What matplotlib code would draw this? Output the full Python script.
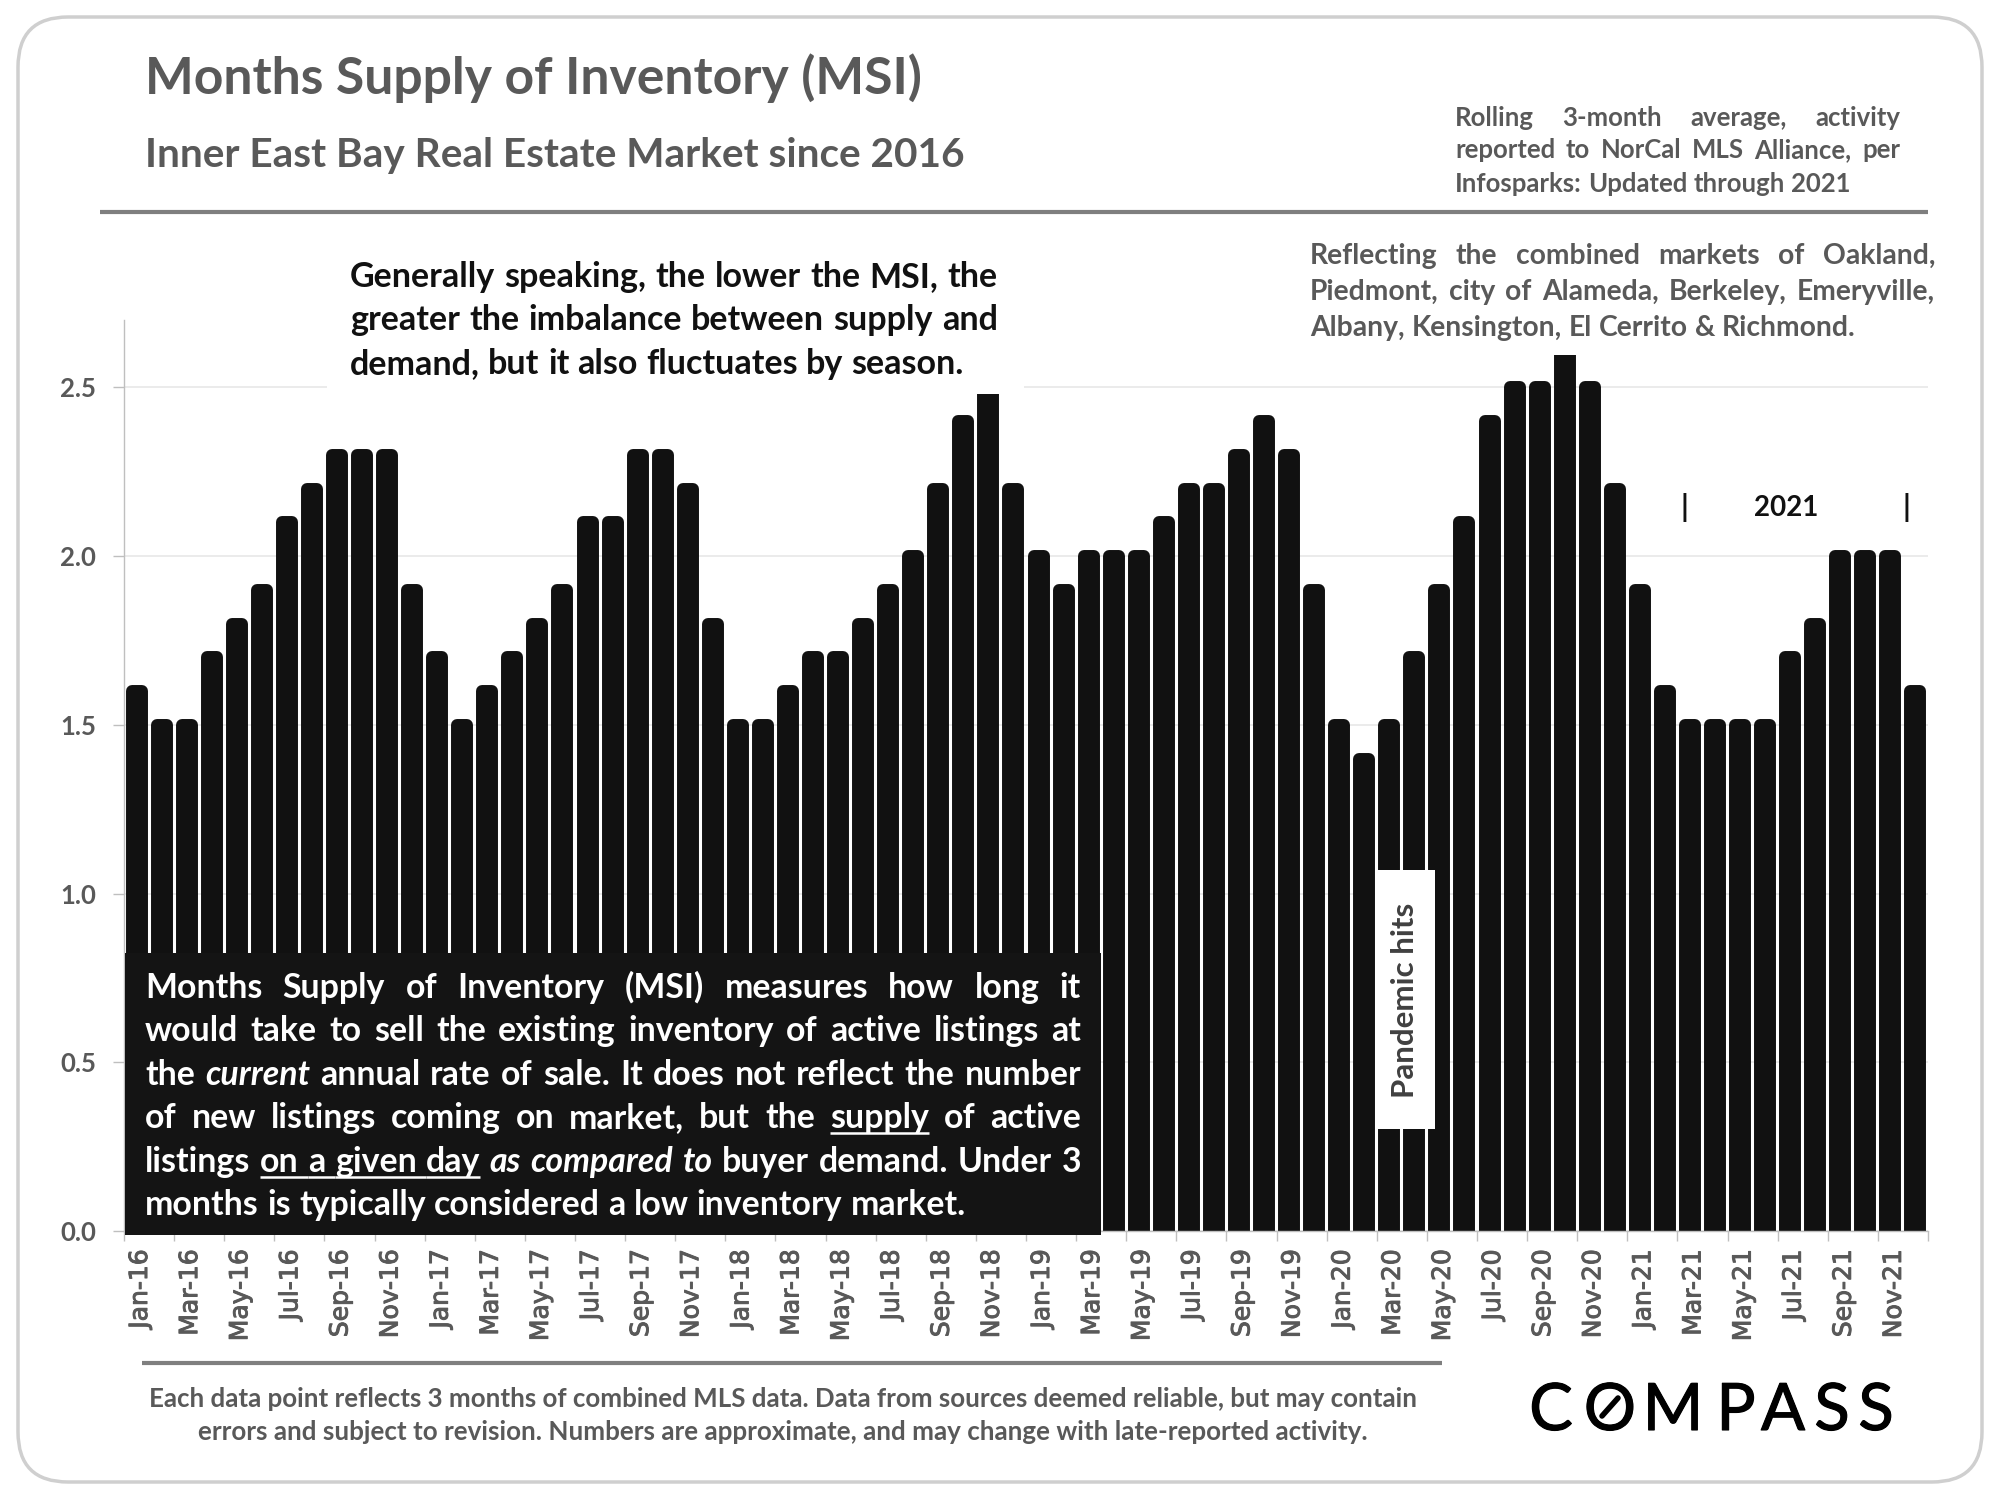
#!/usr/bin/env python3

import matplotlib
matplotlib.use('Agg')
import matplotlib.pyplot as plt
import matplotlib.patheffects as pe
from matplotlib.patches import FancyBboxPatch, Rectangle
from matplotlib.transforms import ScaledTranslation

plt.rcParams['font.family'] = ['Lato', 'DejaVu Sans']

years = ['16', '17', '18', '19', '20', '21']
month_names = ['Jan', 'Feb', 'Mar', 'Apr', 'May', 'Jun',
               'Jul', 'Aug', 'Sep', 'Oct', 'Nov', 'Dec']
months = [m + '-' + y for y in years for m in month_names]

msi = [1.6, 1.5, 1.5, 1.7, 1.8, 1.9, 2.1, 2.2, 2.3, 2.3, 2.3, 1.9,
       1.7, 1.5, 1.6, 1.7, 1.8, 1.9, 2.1, 2.1, 2.3, 2.3, 2.2, 1.8,
       1.5, 1.5, 1.6, 1.7, 1.7, 1.8, 1.9, 2.0, 2.2, 2.4, 2.5, 2.2,
       2.0, 1.9, 2.0, 2.0, 2.0, 2.1, 2.2, 2.2, 2.3, 2.4, 2.3, 1.9,
       1.5, 1.4, 1.5, 1.7, 1.9, 2.1, 2.4, 2.5, 2.5, 2.6, 2.5, 2.2,
       1.9, 1.6, 1.5, 1.5, 1.5, 1.5, 1.7, 1.8, 2.0, 2.0, 2.0, 1.6]

y_ticks = [0.0, 0.5, 1.0, 1.5, 2.0, 2.5]

title = 'Months Supply of Inventory (MSI)'
subtitle = 'Inner East Bay Real Estate Market since 2016'
source_lines = ['Rolling 3-month average, activity',
                'reported to NorCal MLS Alliance, per',
                'Infosparks: Updated through 2021']
region_lines = ['Reflecting the combined markets of Oakland,',
                'Piedmont, city of Alameda, Berkeley, Emeryville,',
                'Albany, Kensington, El Cerrito & Richmond.']
note_lines = ['Generally speaking, the lower the MSI, the',
              'greater the imbalance between supply and',
              'demand, but it also fluctuates by season.']
# words tagged: '' plain, 'i' italic, 'u' underlined
box_lines = [
    [(w, '') for w in 'Months Supply of Inventory (MSI) measures how long it'.split()],
    [(w, '') for w in 'would take to sell the existing inventory of active listings at'.split()],
    [('the', ''), ('current', 'i')] + [(w, '') for w in 'annual rate of sale. It does not reflect the number'.split()],
    [(w, '') for w in 'of new listings coming on market, but the'.split()] + [('supply', 'u'), ('of', ''), ('active', '')],
    [('listings', ''), ('on', 'u'), ('a', 'u'), ('given', 'u'), ('day', 'u'), ('as', 'i'), ('compared', 'i'), ('to', 'i')]
    + [(w, '') for w in 'buyer demand. Under 3'.split()],
    [(w, '') for w in 'months is typically considered a low inventory market.'.split()],
]
footer_lines = ['Each data point reflects 3 months of combined MLS data. Data from sources deemed reliable, but may contain',
                'errors and subject to revision. Numbers are approximate, and may change with late-reported activity.']

GREY = '#595959'
BLACK = '#111111'


def text_width(s, **kw):
    t = over.text(0, 0, s, **kw)
    w = t.get_window_extent(renderer).width
    t.remove()
    return w


def draw_words(words, x0, x1, y, justify, size, color, weight='bold'):
    widths = []
    for word, style in words:
        widths.append(text_width(word, fontsize=size, fontweight=weight,
                                 fontstyle='italic' if style == 'i' else 'normal'))
    if justify:
        gap = (x1 - x0 - sum(widths)) / (len(words) - 1)
    else:
        gap = (text_width('a a', fontsize=size, fontweight=weight)
               - text_width('aa', fontsize=size, fontweight=weight))
    x = x0
    for i, (word, style) in enumerate(words):
        over.text(x, y, word, fontsize=size, fontweight=weight, color=color,
                  fontstyle='italic' if style == 'i' else 'normal',
                  ha='left', va='baseline')
        if style == 'u':
            end = x + widths[i]
            if i + 1 < len(words) and words[i + 1][1] == 'u':
                end += gap
            over.plot([x, end], [y + 5, y + 5], color=color, lw=1.8,
                      solid_capstyle='butt')
        x += widths[i] + gap


def draw_block(lines, x0, x1, baselines, size, color, last_left=True):
    for i, line in enumerate(lines):
        words = [(w, '') for w in line.split()]
        justify = not (last_left and i == len(lines) - 1)
        draw_words(words, x0, x1, baselines[i], justify, size, color)


fig = plt.figure(figsize=(20, 15), dpi=100, facecolor='white')
renderer = fig.canvas.get_renderer()

# chart
ax = fig.add_axes([124 / 2000, (1500 - 1231) / 1500, 1804 / 2000, 911 / 1500])
ax.bar(range(len(msi)), msi, width=0.4, color=BLACK, edgecolor=BLACK,
       linewidth=8.6, joinstyle='round', zorder=3)
ax.set_xlim(-0.5, len(msi) - 0.5)
ax.set_ylim(0, 2.7)

ax.set_yticks(y_ticks)
ax.set_yticklabels(['%.1f' % v for v in y_ticks], fontsize=18.5, fontweight='bold',
                   color=GREY)
ax.tick_params(axis='y', length=8, width=1, color='#bfbfbf', pad=12)
ax.grid(axis='y', color='#e8e8e8', lw=1.2, zorder=0)
ax.set_axisbelow(True)

ax.set_xticks(range(0, len(msi), 2))
ax.set_xticklabels(months[::2], rotation=90, fontsize=18, color=GREY,
                   family='DejaVu Sans', ha='center', va='top')
ax.set_xticks([i - 0.5 for i in range(0, len(msi) + 1, 2)], minor=True)
ax.tick_params(axis='x', which='major', length=0, pad=13)
ax.tick_params(axis='x', which='minor', length=7, width=1, color='#bfbfbf')
nudge = ScaledTranslation(3.5 / 100, 0, fig.dpi_scale_trans)
for label in ax.get_xticklabels():
    label.set_transform(label.get_transform() + nudge)
    label.set_path_effects([pe.withStroke(linewidth=0.7, foreground=GREY)])

for side in ['top', 'right']:
    ax.spines[side].set_visible(False)
for side in ['left', 'bottom']:
    ax.spines[side].set_color('#bfbfbf')
    ax.spines[side].set_linewidth(1)
    ax.spines[side].set_zorder(4)

# page layer, in pixels of the picture
over = fig.add_axes([0, 0, 1, 1], zorder=5)
over.set_xlim(0, 2000)
over.set_ylim(1500, 0)
over.axis('off')
over.patch.set_alpha(0)

over.add_patch(FancyBboxPatch((18 + 50, 17 + 50), 1964 - 100, 1465 - 100,
                              boxstyle='round,pad=50,rounding_size=50',
                              fc='none', ec='#cfcfcf', lw=2.5))

# white boxes that sit over the chart
over.add_patch(Rectangle((327, 250), 697, 144, fc='white', ec='none'))
over.add_patch(Rectangle((1300, 225), 640, 130, fc='white', ec='none'))
over.add_patch(Rectangle((1375, 870), 60, 259, fc='white', ec='none'))
over.add_patch(Rectangle((125, 953), 976, 282, fc='#141414', ec='none'))

over.plot([100, 1928], [212, 212], color='#7f7f7f', lw=3, solid_capstyle='butt')
over.plot([142, 1442], [1363, 1363], color='#7f7f7f', lw=3, solid_capstyle='butt')

over.text(145, 94, title, fontsize=37.2, fontweight='bold', color=GREY,
          ha='left', va='baseline')
over.text(145, 167, subtitle, fontsize=29.2, fontweight='bold', color=GREY,
          ha='left', va='baseline')

draw_block(source_lines, 1455, 1900, [126, 158, 192], 18.5, GREY)
draw_block(region_lines, 1310, 1935, [264, 300, 336], 20.3, GREY)
draw_block(note_lines, 350, 998, [287, 330, 374], 24.5, BLACK)

box_baselines = [998, 1041, 1085, 1128, 1172, 1215]
for i, words in enumerate(box_lines):
    draw_words(words, 145, 1081, box_baselines[i], i < 5, 24.4, 'white')

over.text(1405, 1000, 'Pandemic hits', rotation=90, fontsize=22.5, fontweight='bold',
          color='#404040', ha='center', va='center')
over.text(1786, 508, '2021', fontsize=20, fontweight='bold', color=BLACK,
          ha='center', va='center')
over.text(1684, 508, '|', fontsize=22, fontweight='bold', color=BLACK,
          ha='center', va='center')
over.text(1906, 508, '|', fontsize=22, fontweight='bold', color=BLACK,
          ha='center', va='center')

over.text(783, 1407, footer_lines[0], fontsize=18.6, fontweight='bold', color=GREY,
          ha='center', va='baseline')
over.text(783, 1440, footer_lines[1], fontsize=18.7, fontweight='bold', color=GREY,
          ha='center', va='baseline')

# logo
logo_letters = ['C', 'O', 'M', 'P', 'A', 'S', 'S']
logo_x = [1551, 1610, 1673, 1736, 1783, 1832, 1876]
for letter, x in zip(logo_letters, logo_x):
    over.text(x, 1430, letter, fontsize=47, color='black', ha='center', va='baseline',
              path_effects=[pe.withStroke(linewidth=0.8, foreground='black')])
over.plot([1602, 1618], [1416, 1398], color='black', lw=4, solid_capstyle='round')

fig.savefig('out.png', dpi=100, facecolor='white')
